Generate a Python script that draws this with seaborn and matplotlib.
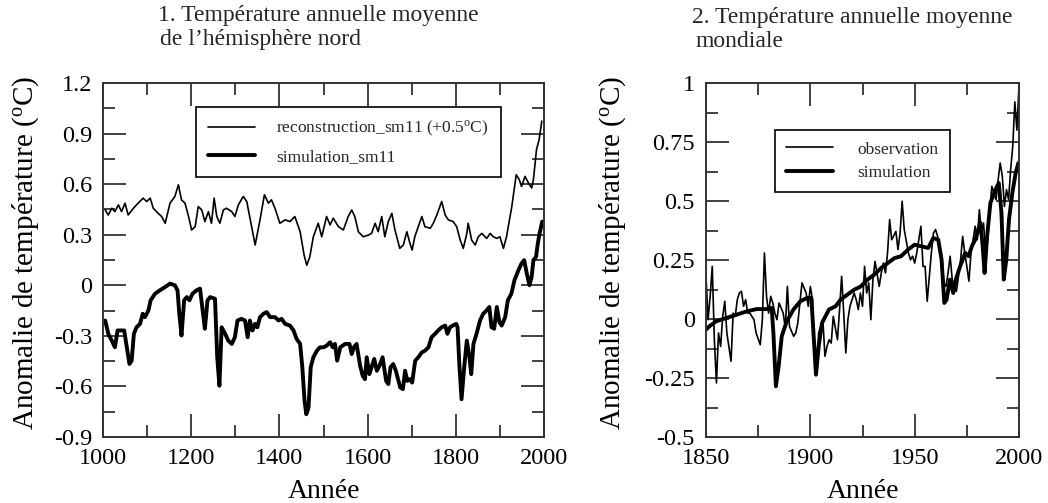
import numpy as np
import pandas as pd
import matplotlib
matplotlib.use("Agg")
import matplotlib.pyplot as plt
import seaborn as sns
from matplotlib.ticker import MultipleLocator, FixedLocator, FixedFormatter

# ---------------- DATA ----------------
# Panel 1: Northern hemisphere
recon_years = [1005, 1012, 1020, 1027, 1035, 1042, 1050, 1057, 1069, 1076, 1091, 1099, 1107, 1114,
               1125, 1133, 1141, 1152, 1163, 1171, 1178, 1186, 1194, 1201, 1209, 1216, 1224, 1231,
               1239, 1246, 1252, 1258, 1265, 1273, 1280, 1292, 1299, 1307, 1318, 1326, 1337, 1345,
               1356, 1366, 1375, 1382, 1390, 1401, 1413, 1424, 1435, 1447, 1456, 1462, 1469, 1477,
               1488, 1496, 1507, 1515, 1522, 1534, 1545, 1556, 1564, 1571, 1579, 1590, 1602, 1609,
               1617, 1624, 1632, 1639, 1647, 1655, 1662, 1673, 1681, 1689, 1696, 1701, 1707, 1715,
               1723, 1730, 1742, 1749, 1757, 1768, 1776, 1783, 1794, 1802, 1810, 1817, 1825, 1828,
               1836, 1844, 1851, 1859, 1870, 1878, 1885, 1893, 1900, 1908, 1915, 1927, 1937, 1944,
               1949, 1957, 1965, 1972, 1976, 1983, 1989, 1995]
recon_values = [0.447, 0.417, 0.457, 0.437, 0.477, 0.437, 0.487, 0.417, 0.457, 0.477, 0.517, 0.497,
                0.517, 0.457, 0.427, 0.408, 0.368, 0.487, 0.527, 0.596, 0.507, 0.487, 0.408, 0.328,
                0.348, 0.467, 0.447, 0.378, 0.437, 0.368, 0.517, 0.408, 0.368, 0.447, 0.457, 0.437,
                0.408, 0.477, 0.527, 0.497, 0.348, 0.239, 0.388, 0.537, 0.487, 0.507, 0.457, 0.368,
                0.388, 0.378, 0.408, 0.318, 0.179, 0.119, 0.169, 0.288, 0.368, 0.288, 0.408, 0.358,
                0.398, 0.348, 0.328, 0.408, 0.447, 0.408, 0.318, 0.288, 0.298, 0.308, 0.368, 0.318,
                0.408, 0.288, 0.378, 0.427, 0.328, 0.219, 0.239, 0.318, 0.249, 0.209, 0.288, 0.348,
                0.408, 0.348, 0.338, 0.368, 0.417, 0.497, 0.417, 0.388, 0.378, 0.348, 0.268, 0.219,
                0.308, 0.368, 0.268, 0.239, 0.288, 0.308, 0.278, 0.308, 0.288, 0.278, 0.288, 0.219,
                0.288, 0.467, 0.656, 0.626, 0.586, 0.646, 0.606, 0.577, 0.626, 0.805, 0.865, 0.974]

sim_nh_years = [1005, 1012, 1020, 1027, 1033, 1039, 1048, 1054, 1060, 1065, 1070, 1076, 1084, 1090,
                1095, 1103, 1108, 1118, 1129, 1141, 1152, 1163, 1169, 1173, 1178, 1184, 1190, 1196,
                1203, 1212, 1220, 1226, 1231, 1237, 1243, 1254, 1259, 1264, 1269, 1277, 1284, 1292,
                1299, 1305, 1314, 1322, 1328, 1333, 1339, 1345, 1350, 1356, 1364, 1371, 1379, 1390,
                1398, 1405, 1413, 1424, 1432, 1439, 1447, 1452, 1457, 1461, 1466, 1471, 1477, 1485,
                1492, 1500, 1507, 1515, 1521, 1526, 1531, 1538, 1549, 1559, 1564, 1569, 1575, 1583,
                1589, 1594, 1598, 1604, 1609, 1615, 1621, 1627, 1634, 1642, 1647, 1652, 1658, 1664,
                1670, 1674, 1680, 1685, 1690, 1696, 1701, 1708, 1715, 1723, 1730, 1738, 1745, 1753,
                1760, 1768, 1776, 1781, 1787, 1793, 1801, 1804, 1808, 1813, 1819, 1825, 1831, 1835,
                1840, 1847, 1855, 1862, 1870, 1876, 1881, 1887, 1893, 1899, 1904, 1912, 1918, 1926,
                1933, 1942, 1949, 1955, 1961, 1967, 1972, 1976, 1982, 1986, 1990, 1996]
sim_nh_values = [-0.209, -0.288, -0.328, -0.368, -0.268, -0.268, -0.268, -0.368, -0.467, -0.447,
                 -0.288, -0.249, -0.229, -0.169, -0.189, -0.149, -0.089, -0.050, -0.030, -0.010,
                 0.010, 0.000, -0.030, -0.169, -0.298, -0.089, -0.070, -0.089, -0.050, -0.030,
                 -0.020, -0.149, -0.258, -0.089, -0.070, -0.080, -0.427, -0.596, -0.249, -0.288,
                 -0.328, -0.348, -0.308, -0.209, -0.199, -0.209, -0.308, -0.209, -0.268, -0.229,
                 -0.249, -0.189, -0.169, -0.159, -0.189, -0.189, -0.209, -0.199, -0.229, -0.239,
                 -0.268, -0.318, -0.348, -0.487, -0.686, -0.765, -0.726, -0.487, -0.427, -0.388,
                 -0.368, -0.368, -0.358, -0.338, -0.368, -0.348, -0.447, -0.368, -0.348, -0.348,
                 -0.408, -0.368, -0.348, -0.477, -0.537, -0.557, -0.427, -0.527, -0.487, -0.437,
                 -0.507, -0.477, -0.427, -0.567, -0.586, -0.487, -0.467, -0.507, -0.567, -0.606,
                 -0.616, -0.507, -0.567, -0.557, -0.577, -0.447, -0.427, -0.398, -0.388, -0.368,
                 -0.308, -0.288, -0.268, -0.249, -0.239, -0.288, -0.249, -0.239, -0.229, -0.249,
                 -0.467, -0.676, -0.487, -0.328, -0.427, -0.527, -0.348, -0.288, -0.209, -0.169,
                 -0.149, -0.129, -0.249, -0.258, -0.129, -0.219, -0.239, -0.189, -0.089, -0.050,
                 0.030, 0.089, 0.129, 0.149, 0.070, 0.000, 0.050, 0.149, 0.169, 0.249, 0.308, 0.378]

# Panel 2: global
obs_years = [1850, 1851, 1852, 1853, 1854, 1855, 1856, 1857, 1858, 1859, 1860, 1862, 1863, 1864,
             1865, 1866, 1867, 1868, 1869, 1870, 1871, 1873, 1874, 1876, 1877, 1878, 1879, 1880,
             1881, 1882, 1883, 1884, 1885, 1887, 1888, 1889, 1890, 1892, 1893, 1894, 1895, 1896,
             1898, 1899, 1900, 1901, 1902, 1903, 1904, 1906, 1907, 1908, 1909, 1910, 1911, 1913,
             1914, 1915, 1916, 1917, 1918, 1919, 1921, 1922, 1923, 1924, 1925, 1926, 1927, 1928,
             1929, 1930, 1931, 1933, 1934, 1935, 1936, 1937, 1938, 1939, 1941, 1942, 1943, 1944,
             1945, 1947, 1948, 1949, 1950, 1951, 1953, 1954, 1955, 1956, 1958, 1959, 1960, 1961,
             1963, 1964, 1965, 1966, 1967, 1968, 1970, 1971, 1972, 1973, 1974, 1975, 1976, 1977,
             1979, 1980, 1981, 1982, 1983, 1984, 1985, 1986, 1987, 1989, 1990, 1991, 1992, 1993,
             1994, 1995, 1996, 1997, 1998, 1999, 2000]
obs_values = [0.181, -0.003, 0.096, 0.223, -0.088, -0.271, -0.059, -0.116, 0.011, 0.075, -0.059,
              -0.179, 0.025, 0.011, 0.082, 0.110, 0.117, 0.054, 0.082, 0.025, 0.025, -0.003, -0.059,
              -0.109, -0.003, 0.280, 0.096, 0.025, 0.096, 0.068, 0.025, -0.003, 0.068, 0.025,
              -0.038, 0.138, -0.031, -0.073, -0.059, -0.017, 0.068, 0.153, 0.110, 0.054, 0.138,
              0.082, -0.158, -0.229, -0.059, -0.003, -0.158, -0.116, -0.088, -0.102, 0.011, -0.088,
              0.040, 0.181, 0.025, -0.144, -0.003, 0.054, 0.110, 0.082, 0.040, 0.110, 0.054, 0.223,
              0.110, 0.153, -0.003, 0.167, 0.244, 0.138, 0.195, 0.237, 0.195, 0.280, 0.421, 0.336,
              0.371, 0.294, 0.364, 0.499, 0.379, 0.280, 0.251, 0.266, 0.237, 0.280, 0.393, 0.223,
              0.223, 0.075, 0.280, 0.364, 0.379, 0.350, 0.266, 0.153, 0.138, 0.195, 0.266, 0.167,
              0.117, 0.181, 0.251, 0.350, 0.280, 0.223, 0.160, 0.280, 0.393, 0.336, 0.463, 0.364,
              0.407, 0.280, 0.336, 0.463, 0.562, 0.506, 0.590, 0.661, 0.605, 0.477, 0.548, 0.506,
              0.633, 0.732, 0.92, 0.80, 0.99]

sim_gl_years = [1850, 1851.6, 1854.8, 1859.7, 1864.5, 1869.4, 1874.2, 1879.0, 1881.5, 1882.3,
                1883.5, 1884.8, 1886.3, 1888.7, 1891.9, 1895.2, 1898.4, 1900.5, 1901.6, 1902.7,
                1904.0, 1905.6, 1908.9, 1912.1, 1914.5, 1917.7, 1921.0, 1924.2, 1927.4, 1930.6,
                1933.9, 1937.1, 1940.3, 1943.5, 1946.8, 1950.0, 1953.2, 1956.5, 1958.9, 1961.3,
                1962.9, 1964.2, 1965.3, 1966.9, 1968.5, 1969.7, 1971.8, 1974.2, 1975.8, 1977.4,
                1979.0, 1981.5, 1982.6, 1983.5, 1984.7, 1986.3, 1988.7, 1990.3, 1991.6, 1992.7,
                1993.9, 1995.2, 1996.8, 1998.4, 1999.7]
sim_gl_values = [-0.045, -0.031, -0.010, 0.004, 0.018, 0.032, 0.042, 0.042, 0.047, -0.059,
                 -0.285, -0.201, -0.073, -0.010, 0.040, 0.075, 0.089, 0.089, -0.073, -0.236,
                 -0.116, -0.017, 0.040, 0.054, 0.082, 0.103, 0.124, 0.138, 0.167, 0.188,
                 0.216, 0.237, 0.258, 0.266, 0.294, 0.315, 0.308, 0.301, 0.343, 0.336,
                 0.251, 0.068, 0.082, 0.167, 0.110, 0.167, 0.223, 0.280, 0.266, 0.308,
                 0.336, 0.407, 0.308, 0.195, 0.350, 0.492, 0.548, 0.576, 0.449, 0.167,
                 0.251, 0.421, 0.534, 0.619, 0.661]

left_yticks = [-0.9, -0.6, -0.3, 0.0, 0.3, 0.6, 0.9, 1.2]
left_yticklabels = ["-0.9", "-0.6", "-0.3", "0", "0.3", "0.6", "0.9", "1.2"]
left_xticks = [1000, 1200, 1400, 1600, 1800, 2000]
right_yticks = [-0.5, -0.25, 0.0, 0.25, 0.5, 0.75, 1.0]
right_yticklabels = ["-0.5", "-0.25", "0", "0.25", "0.5", "0.75", "1"]
right_xticks = [1850, 1900, 1950, 2000]

# ---------------- STYLE ----------------
sns.set_theme(style="ticks")
plt.rcParams["font.family"] = ["Liberation Serif", "DejaVu Serif"]
plt.rcParams["mathtext.fontset"] = "custom"
plt.rcParams["mathtext.rm"] = "Liberation Serif"
plt.rcParams["mathtext.it"] = "Liberation Serif:italic"

W, H = 1048, 503
fig = plt.figure(figsize=(W / 100, H / 100), dpi=100)

def px_axes(l, t, r, b):
    return fig.add_axes([l / W, 1 - b / H, (r - l) / W, (b - t) / H])

ax1 = px_axes(103, 83, 544, 437)
ax2 = px_axes(706, 83, 1019, 437)

frame = "#333333"
thin, thick = 1.2, 2.8

df_r = pd.DataFrame({"year": recon_years, "val": recon_values})
df_s = pd.DataFrame({"year": sim_nh_years, "val": sim_nh_values})
sns.lineplot(data=df_r, x="year", y="val", ax=ax1, color="black", linewidth=thin,
             label=r"reconstruction_sm11 (+0.5$^{\rm o}$C)")
sns.lineplot(data=df_s, x="year", y="val", ax=ax1, color="black", linewidth=thick,
             label="simulation_sm11")

df_o = pd.DataFrame({"year": obs_years, "val": obs_values})
df_g = pd.DataFrame({"year": sim_gl_years, "val": sim_gl_values})
sns.lineplot(data=df_o, x="year", y="val", ax=ax2, color="black", linewidth=thin,
             label="observation")
sns.lineplot(data=df_g, x="year", y="val", ax=ax2, color="black", linewidth=thick,
             label="simulation")

ax1.set_xlim(1000, 2000)
ax1.set_ylim(-0.9, 1.2)
ax1.xaxis.set_major_locator(FixedLocator(left_xticks))
ax1.xaxis.set_minor_locator(MultipleLocator(100))
ax1.yaxis.set_major_locator(FixedLocator(left_yticks))
ax1.yaxis.set_major_formatter(FixedFormatter(left_yticklabels))
ax1.yaxis.set_minor_locator(MultipleLocator(0.15))

ax2.set_xlim(1850, 2000)
ax2.set_ylim(-0.5, 1.0)
ax2.xaxis.set_major_locator(FixedLocator(right_xticks))
ax2.xaxis.set_minor_locator(MultipleLocator(25))
ax2.yaxis.set_major_locator(FixedLocator(right_yticks))
ax2.yaxis.set_major_formatter(FixedFormatter(right_yticklabels))
ax2.yaxis.set_minor_locator(MultipleLocator(0.125))

ylab = r"Anomalie de température ($^{\rm o}$C)"
for ax, ylx in ((ax1, -0.140), (ax2, -0.250)):
    for s in ax.spines.values():
        s.set_color(frame)
        s.set_linewidth(1.4)
    ax.tick_params(which="both", direction="in", top=True, right=True,
                   color=frame, width=1.3, labelsize=17.5, labelcolor="black")
    ax.tick_params(which="major", length=16.5)
    ax.tick_params(which="minor", length=8.6)
    ax.tick_params(axis="y", which="major", pad=8)
    ax.tick_params(axis="x", which="major", pad=8)
    ax.set_xlabel("Année", fontsize=20, color="black")
    ax.set_ylabel(ylab, fontsize=21, color="black")
    ax.xaxis.set_label_coords(0.5, -0.118)
    ax.yaxis.set_label_coords(ylx, 0.52)
    ax.set_facecolor("white")
    ax.grid(False)

leg1 = ax1.legend(loc="upper left", bbox_to_anchor=(0.211, 0.932), fontsize=12.5,
                  frameon=True, fancybox=False, framealpha=1, edgecolor="black",
                  handlelength=2.7, handletextpad=1.2, labelspacing=0.6,
                  borderpad=0.7, borderaxespad=0)
leg1.get_frame().set_linewidth(1.2)
leg2 = ax2.legend(loc="upper left", bbox_to_anchor=(0.22, 0.867), fontsize=12.5,
                  frameon=True, fancybox=False, framealpha=1, edgecolor="black",
                  handlelength=2.7, handletextpad=1.4, labelspacing=0.4,
                  borderpad=0.65, borderaxespad=0)
leg2.get_frame().set_linewidth(1.2)

tsize = 17
fig.text(158 / W, 1 - 21 / H, "1. Température annuelle moyenne", fontsize=tsize,
         ha="left", va="baseline")
fig.text(160 / W, 1 - 45 / H, "de l\u2019hémisphère nord", fontsize=tsize,
         ha="left", va="baseline")
fig.text(692 / W, 1 - 23 / H, "2. Température annuelle moyenne", fontsize=tsize,
         ha="left", va="baseline")
fig.text(695 / W, 1 - 47 / H, "mondiale", fontsize=tsize, ha="left", va="baseline")

fig.savefig("out.png", dpi=100, facecolor="white")
